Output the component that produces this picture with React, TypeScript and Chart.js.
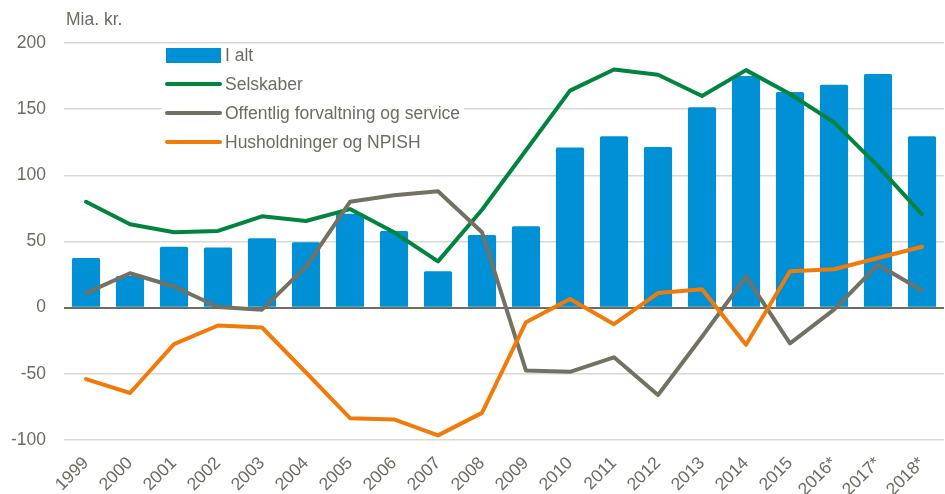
import React, { useEffect, useRef } from "react";
import { Chart, registerables } from "chart.js";

Chart.register(...registerables);

const categories = ["1999","2000","2001","2002","2003","2004","2005","2006","2007","2008","2009","2010","2011","2012","2013","2014","2015","2016*","2017*","2018*"];
const iAlt = [37.5, 24, 46, 45.5, 52.5, 49.5, 71, 58, 27.5, 55, 61.5, 121, 129.5, 121.5, 151.5, 175, 163, 168.5, 176.5, 129.5];
const selskaber = [80, 63, 57, 58, 69, 65.5, 74.5, 57, 35, 74, 119, 164, 180, 176, 160, 179.5, 161.5, 140, 107, 70.5];
const offentlig = [11, 26, 16, 0.5, -1.5, 31, 80, 85, 88, 57, -47.5, -48.5, -37.5, -66, -22, 23.5, -27, -1.5, 32.5, 13];
const husholdninger = [-54, -64.5, -27.5, -13.5, -15, -49, -83.5, -84.5, -96.5, -79.5, -11, 6.5, -12.5, 11, 14, -28, 27.5, 29, 37.5, 46];
const yTicks = [-100, -50, 0, 50, 100, 150, 200];
const unitLabel = "Mia. kr.";

const BLUE = "#0090D5";
const GREEN = "#00843E";
const GRAY = "#737064";
const ORANGE = "#F07B0A";
const TEXT = "#6E6C62";
const FONT = "'Liberation Sans', Arial, sans-serif";
const FS = 17.5;

const legendPlugin = {
  id: "customLegend",
  afterDraw(chart: any) {
    const ctx = chart.ctx;
    ctx.save();
    ctx.fillStyle = TEXT;
    ctx.font = `${FS}px ${FONT}`;
    ctx.textBaseline = "middle";
    ctx.textAlign = "left";
    ctx.fillText(unitLabel, 66, 20);
    ctx.fillStyle = "#ffffff";
    ctx.fillRect(162, 46, 302, 106);
    const items = chart.data.datasets.map((d: any) => ({
      label: d.label,
      color: d.type === "line" ? d.borderColor : d.backgroundColor,
      isBar: d.type !== "line",
    }));
    const x0 = 166;
    const yStart = 55;
    const step = 29;
    items.forEach((it: any, i: number) => {
      const y = yStart + i * step;
      if (it.isBar) {
        ctx.fillStyle = it.color;
        ctx.fillRect(x0, y - 7, 55, 15);
      } else {
        ctx.strokeStyle = it.color;
        ctx.lineWidth = 4;
        ctx.lineCap = "round";
        ctx.beginPath();
        ctx.moveTo(x0 + 1, y);
        ctx.lineTo(x0 + 54, y);
        ctx.stroke();
      }
      ctx.fillStyle = TEXT;
      ctx.font = `${FS}px ${FONT}`;
      ctx.textBaseline = "middle";
      ctx.fillText(it.label, x0 + 59, y + 1);
    });
    ctx.restore();
  },
};

export default function App() {
  const ref = useRef<HTMLCanvasElement | null>(null);
  useEffect(() => {
    document.body.style.margin = "0";
    const canvas = ref.current;
    if (!canvas) return;
    const chart = new Chart(canvas, {
      type: "bar",
      data: {
        labels: categories,
        datasets: [
          {
            type: "bar",
            label: "I alt",
            data: iAlt,
            backgroundColor: BLUE,
            borderWidth: 0,
            barPercentage: 0.64,
            categoryPercentage: 1,
            borderRadius: 1.5,
            order: 10,
          } as any,
          {
            type: "line",
            label: "Selskaber",
            data: selskaber,
            borderColor: GREEN,
            backgroundColor: GREEN,
            borderWidth: 4,
            pointRadius: 0,
            tension: 0,
            borderJoinStyle: "round",
            borderCapStyle: "round",
            order: 3,
          } as any,
          {
            type: "line",
            label: "Offentlig forvaltning og service",
            data: offentlig,
            borderColor: GRAY,
            backgroundColor: GRAY,
            borderWidth: 4,
            pointRadius: 0,
            tension: 0,
            borderJoinStyle: "round",
            borderCapStyle: "round",
            order: 2,
          } as any,
          {
            type: "line",
            label: "Husholdninger og NPISH",
            data: husholdninger,
            borderColor: ORANGE,
            backgroundColor: ORANGE,
            borderWidth: 4,
            pointRadius: 0,
            tension: 0,
            borderJoinStyle: "round",
            borderCapStyle: "round",
            order: 1,
          } as any,
        ],
      },
      options: {
        animation: false,
        responsive: false,
        maintainAspectRatio: false,
        layout: { padding: { top: 43, right: 1, left: 0, bottom: 0 } },
        plugins: {
          legend: { display: false },
          tooltip: { enabled: false },
        },
        scales: {
          x: {
            offset: true,
            grid: { display: false, drawTicks: false },
            border: { display: false },
            ticks: {
              color: TEXT,
              font: { family: FONT, size: FS },
              maxRotation: 45,
              minRotation: 45,
              padding: 13,
              autoSkip: false,
            },
            afterFit(scale: any) {
              scale.height = 54;
              scale.paddingRight = 0;
              scale.paddingLeft = 0;
            },
          },
          y: {
            min: -100,
            max: 200,
            afterBuildTicks(scale: any) {
              scale.ticks = yTicks.map((v) => ({ value: v }));
            },
            grid: {
              drawTicks: false,
              color: (c: any) => (c.tick && c.tick.value === 0 ? "#6F6C60" : "#D9D8D2"),
              lineWidth: (c: any) => (c.tick && c.tick.value === 0 ? 2 : 1.5),
            },
            border: { display: false },
            ticks: {
              color: TEXT,
              font: { family: FONT, size: FS },
              padding: 18,
            },
            afterFit(scale: any) {
              scale.width = 64;
            },
          },
        },
      },
      plugins: [legendPlugin],
    });
    return () => chart.destroy();
  }, []);
  return (
    <div style={{ width: 945, height: 494 }}>
      <canvas ref={ref} width={945} height={494} style={{ width: 945, height: 494, display: "block" }} />
    </div>
  );
}
